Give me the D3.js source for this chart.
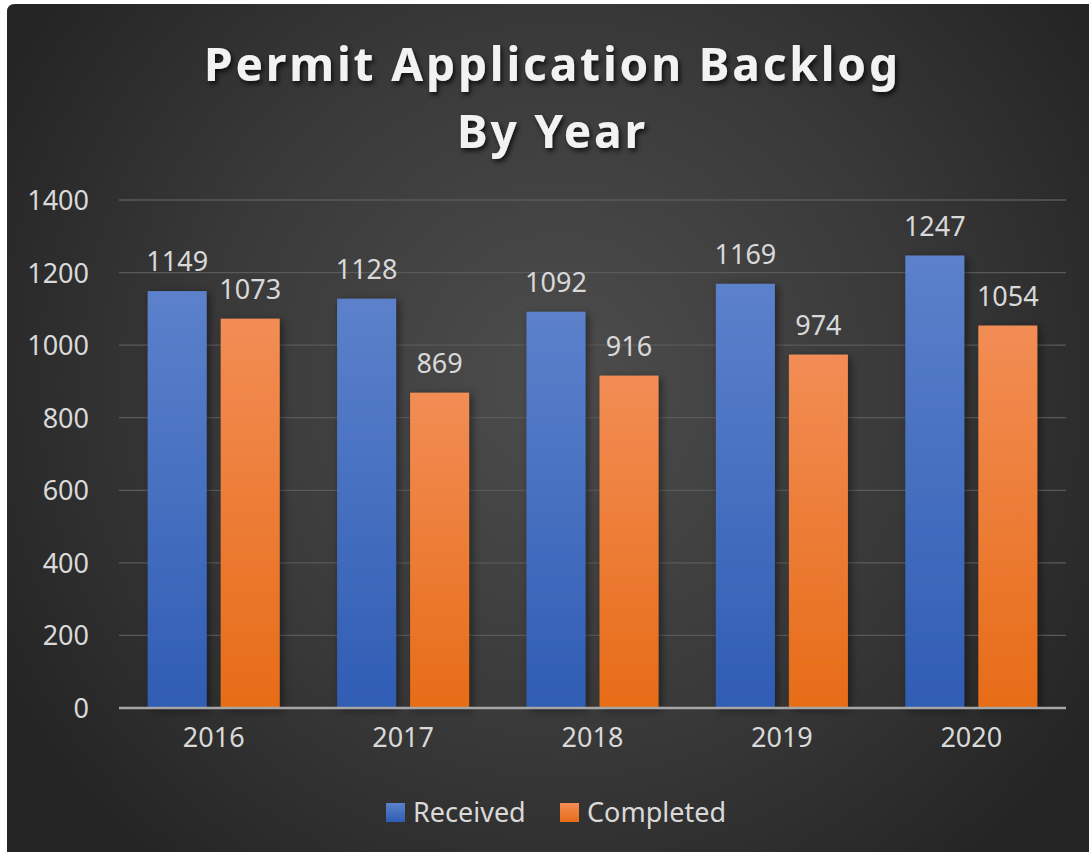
<!DOCTYPE html>
<html>
<head>
<meta charset="utf-8">
<script src="https://cdn.jsdelivr.net/npm/d3@7"></script>
<style>
    body { margin: 0; background: #ffffff; }
    svg { display: block; }
    text { font-family: "Noto Sans", "Open Sans", sans-serif; }
</style>
</head>
<body>
<div id="chart"></div>
<script>
// chart data
const years = ["2016", "2017", "2018", "2019", "2020"];
const seriesNames = ["Received", "Completed"];
const received = [1149, 1128, 1092, 1169, 1247];
const completed = [1073, 869, 916, 974, 1054];
const yTicks = [0, 200, 400, 600, 800, 1000, 1200, 1400];
const titleLines = ["Permit Application Backlog", "By Year"];

const width = 1089, height = 852;
const plot = { left: 119, right: 1066, top: 200, bottom: 708 };
const textColor = "#d9d9d9";

const svg = d3.select("#chart").append("svg")
    .attr("width", width)
    .attr("height", height);

const defs = svg.append("defs");

// background radial glow
const bg = defs.append("radialGradient")
    .attr("id", "bg")
    .attr("gradientUnits", "userSpaceOnUse")
    .attr("cx", 560).attr("cy", 380).attr("r", 640);
bg.append("stop").attr("offset", 0).attr("stop-color", "#4d4d4d");
bg.append("stop").attr("offset", 0.55).attr("stop-color", "#393939");
bg.append("stop").attr("offset", 1).attr("stop-color", "#242424");

// bar gradients
const grads = [
    { id: "gBlue", top: "#5c81cb", bottom: "#2f5db4" },
    { id: "gOrange", top: "#f28d55", bottom: "#e76c17" }
];
grads.forEach(g => {
    const lg = defs.append("linearGradient")
        .attr("id", g.id)
        .attr("x1", 0).attr("y1", 0).attr("x2", 0).attr("y2", 1);
    lg.append("stop").attr("offset", 0).attr("stop-color", g.top);
    lg.append("stop").attr("offset", 1).attr("stop-color", g.bottom);
});

const barShadow = defs.append("filter").attr("id", "barShadow")
    .attr("x", "-20%").attr("y", "-10%").attr("width", "150%").attr("height", "130%");
barShadow.append("feDropShadow")
    .attr("dx", 3).attr("dy", 2).attr("stdDeviation", 4)
    .attr("flood-color", "#000").attr("flood-opacity", 0.45);

const titleShadow = defs.append("filter").attr("id", "titleShadow")
    .attr("x", "-10%").attr("y", "-30%").attr("width", "120%").attr("height", "160%");
titleShadow.append("feDropShadow")
    .attr("dx", 2).attr("dy", 3).attr("stdDeviation", 2.5)
    .attr("flood-color", "#000").attr("flood-opacity", 0.75);

// card
svg.append("path")
    .attr("d", `M7,12 Q7,4 15,4 L${width},4 L${width},${height} L7,${height} Z`)
    .attr("fill", "url(#bg)");

// scales
const x0 = d3.scaleBand()
    .domain(years)
    .range([plot.left, plot.right])
    .paddingInner(0.303)
    .paddingOuter(0.1515);

const x1 = d3.scaleBand()
    .domain(seriesNames)
    .range([0, x0.bandwidth()])
    .paddingInner(0.192);

const y = d3.scaleLinear()
    .domain([0, 1400])
    .range([plot.bottom, plot.top]);

const color = d3.scaleOrdinal()
    .domain(seriesNames)
    .range(["url(#gBlue)", "url(#gOrange)"]);

// gridlines
svg.append("g")
    .selectAll("line")
    .data(yTicks.filter(d => d > 0))
    .join("line")
    .attr("x1", plot.left).attr("x2", plot.right)
    .attr("y1", d => y(d)).attr("y2", d => y(d))
    .attr("stroke", "#5a5a5a")
    .attr("stroke-width", 1.3);

// y axis labels
const yAxis = svg.append("g")
    .attr("transform", `translate(${plot.left},0)`)
    .call(d3.axisLeft(y).tickValues(yTicks).tickFormat(d3.format("d")).tickSize(0).tickPadding(30));
yAxis.select(".domain").remove();
yAxis.selectAll("text")
    .attr("fill", textColor)
    .style("font-size", "27px")
    .attr("dy", "0.35em");

// bars
const rows = years.map((yr, i) => ({ year: yr, values: [
    { name: seriesNames[0], value: received[i] },
    { name: seriesNames[1], value: completed[i] }
]}));

const groups = svg.append("g")
    .selectAll("g")
    .data(rows)
    .join("g")
    .attr("transform", d => `translate(${x0(d.year)},0)`);

groups.selectAll("rect")
    .data(d => d.values)
    .join("rect")
    .attr("x", d => x1(d.name))
    .attr("y", d => y(d.value))
    .attr("width", x1.bandwidth())
    .attr("height", d => y(0) - y(d.value))
    .attr("fill", d => color(d.name))
    .attr("filter", "url(#barShadow)");

groups.selectAll("text")
    .data(d => d.values)
    .join("text")
    .attr("x", d => x1(d.name) + x1.bandwidth() / 2)
    .attr("y", d => y(d.value) - 20)
    .attr("text-anchor", "middle")
    .attr("fill", textColor)
    .style("font-size", "27px")
    .text(d => d.value);

// x axis
const xAxis = svg.append("g")
    .attr("transform", `translate(0,${plot.bottom})`)
    .call(d3.axisBottom(x0).tickSize(0).tickPadding(20).tickSizeOuter(0));
xAxis.select(".domain")
    .attr("stroke", "#a6a6a6")
    .attr("stroke-width", 2.5)
    .attr("d", `M${plot.left},0H${plot.right}`);
xAxis.selectAll("text")
    .attr("fill", textColor)
    .style("font-size", "27px")
    .attr("dy", "0.71em");

// title, stretched with letter spacing to the reference width
const title = svg.append("g").attr("filter", "url(#titleShadow)");
const titleBase = [81, 148];
const targetWidth = 697;
let spacing = 0;
titleLines.forEach((line, i) => {
    const t = title.append("text")
        .attr("x", 551)
        .attr("y", titleBase[i])
        .attr("text-anchor", "middle")
        .attr("fill", "#f2f2f2")
        .style("font-size", "46px")
        .style("font-weight", "bold")
        .text(line);
    if (i === 0) {
        const w = t.node().getComputedTextLength();
        spacing = Math.max(0, (targetWidth - w) / line.length);
    }
    t.style("letter-spacing", spacing + "px")
        .attr("dx", spacing / 2);
});

// legend
const legendItems = [
    { name: seriesNames[0], x: 386, grad: "url(#gBlue)" },
    { name: seriesNames[1], x: 560, grad: "url(#gOrange)" }
];
const legend = svg.append("g")
    .selectAll("g")
    .data(legendItems)
    .join("g")
    .attr("transform", d => `translate(${d.x},803)`);
legend.append("rect")
    .attr("width", 19).attr("height", 19)
    .attr("fill", d => d.grad);
legend.append("text")
    .attr("x", 27)
    .attr("y", 19)
    .attr("fill", textColor)
    .style("font-size", "27px")
    .text(d => d.name);
</script>
</body>
</html>
